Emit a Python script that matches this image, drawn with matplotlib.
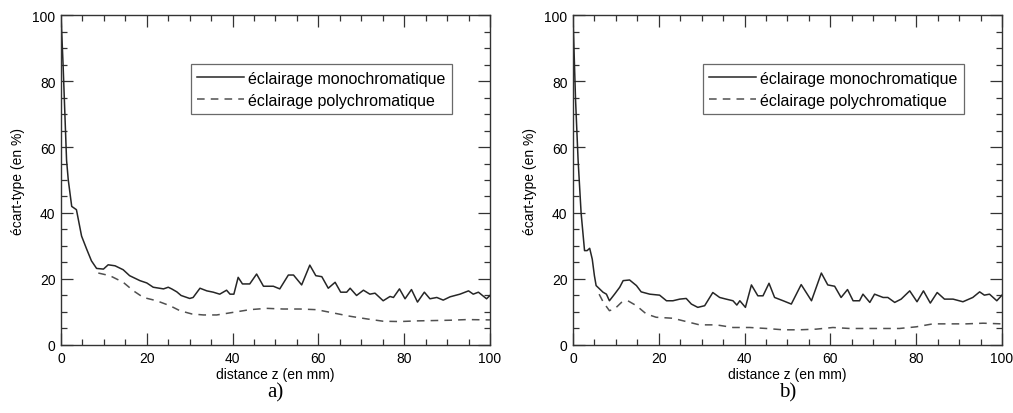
import numpy as np
import matplotlib
matplotlib.use("Agg")
import matplotlib.pyplot as plt
from matplotlib.ticker import MultipleLocator

plt.rcParams["font.family"] = ["Liberation Sans", "DejaVu Sans"]

# a) eclairage monochromatique
a_mono_z = [0, 0.5, 1.3, 1.7, 2.5, 3.6, 4.8, 6, 7.1, 8.3, 9.9, 11, 12.6, 14.5, 16, 18.4, 20,
            21.5, 23.9, 25, 25.8, 27, 28, 30, 30.8, 32.4, 34, 35.5, 37, 38.6, 39.4, 40.3,
            41.3, 42.3, 44, 45.6, 47.2, 49.5, 51, 53, 54.2, 56.1, 58, 59.4, 60.8, 62.3,
            63.9, 65.2, 66.6, 67.4, 68.9, 70.5, 72, 73.2, 75.1, 76.7, 77.5, 78.9, 80.2,
            81.7, 83.1, 84.7, 86, 87.6, 89.1, 90.7, 93, 95, 96.1, 97.3, 99.2, 100]
a_mono = [100, 84.6, 56, 50, 42, 41, 33, 29, 25.5, 23.2, 23, 24.3, 24, 22.8, 21, 19.5, 18.8,
          17.5, 17, 17.5, 17, 16.1, 15, 14.1, 14.4, 17.2, 16.4, 16, 15.4, 16.6, 15.4, 15.4,
          20.5, 18.5, 18.5, 21.5, 17.8, 17.8, 17, 21.2, 21.2, 18.2, 24.2, 21, 20.7, 17.2,
          19, 16, 16, 17.2, 15, 16.6, 15.4, 15.7, 13.4, 14.7, 14.4, 17, 14,
          16.8, 13, 16, 14, 14.4, 13.6, 14.6, 15.4, 16.4, 15.4, 16, 14, 15]

# a) eclairage polychromatique
a_poly_z = [8.7, 11.4, 14.5, 16.9, 19.2, 22.3, 25.4, 27.7, 30.5, 33.2, 36.3, 40.2, 44, 47.9,
            51.8, 55.7, 59.6, 63.5, 67.4, 71.3, 75.1, 79, 82.9, 86.8, 90.7, 94.6, 100]
a_poly = [21.8, 21, 19, 16.4, 14.4, 13.4, 11.9, 10.4, 9.4, 9.1, 9.1, 9.9, 10.7, 11.1,
          10.9, 10.9, 10.7, 9.7, 8.7, 7.9, 7.2, 7.1, 7.3, 7.4, 7.5, 7.7, 7.6]

# b) eclairage monochromatique
b_mono_z = [0, 0.6, 1.2, 1.9, 2.7, 3.3, 3.9, 4.5, 5, 5.4, 6.2, 7, 7.8, 8.5, 9.7, 10.9, 11.7,
            13.2, 14.8, 15.9, 17.9, 20.2, 21.8, 23.3, 24.9, 26.4, 27.6, 29.1, 30.7, 32.6,
            34.2, 35.7, 37.3, 38.2, 38.9, 40.2, 41.6, 43.1, 44.3, 45.7, 47, 49, 50.9, 53.2,
            55.6, 57.9, 59.4, 61, 62.5, 64, 65.3, 66.8, 67.6, 69.2, 70.3, 72.3, 73.4, 75,
            76.5, 78.5, 80.2, 81.7, 83.3, 84.9, 86.6, 88.6, 90.9, 93.2, 94.8, 95.9, 97.1,
            98.8, 100]
b_mono = [100, 74.5, 56, 40, 28.6, 28.6, 29.3, 26, 21, 18, 17, 16, 15.4, 13.4, 15.4, 17.5,
          19.5, 19.7, 18, 16.1, 15.4, 15.1, 13.4, 13.4, 13.9, 14.1, 12.4, 11.4, 11.9, 15.9,
          14.4, 13.9, 13.4, 12.1, 13.4, 11.4, 18.2, 14.9, 14.9, 18.7, 14.4, 13.4, 12.4, 18.3,
          13.4, 21.8, 18.2, 17.8, 14.4, 16.8, 13.4, 13.4, 15.4, 12.9, 15.4, 14.4, 14.4, 12.9,
          13.9, 16.4, 13.1, 16.4, 12.7, 15.9, 13.9, 13.9, 13.1, 14.4, 16.1, 15.1, 15.4,
          13.4, 15.1]

# b) eclairage polychromatique
b_poly_z = [6.1, 7.1, 8.5, 9.7, 11.3, 12.8, 14.8, 17.1, 19.4, 23.3, 26.4, 29.5, 33.4, 37.3,
            41.2, 45.1, 49, 52.8, 56.7, 60.6, 64.5, 68.4, 72.3, 76.1, 80, 83.9, 87.8, 91.7,
            95.6, 100]
b_poly = [15.4, 12.9, 10.4, 10.9, 12.9, 13.4, 11.9, 9.4, 8.4, 8.1, 7.1, 6.1, 6.1, 5.3,
          5.3, 5.0, 4.6, 4.6, 4.8, 5.3, 5.0, 5.0, 5.0, 5.0, 5.5, 6.4, 6.4, 6.4, 6.6, 6.4]

panels = [("a)", a_mono_z, a_mono, a_poly_z, a_poly, 0.0602),
          ("b)", b_mono_z, b_mono, b_poly_z, b_poly, 0.5656)]

fig = plt.figure(figsize=(10.13, 4.14), dpi=100)

for tag, mz, m, pz, p, left in panels:
    ax = fig.add_axes([left, 0.1643, 0.4235, 0.797])
    ax.plot(mz, m, color="#262626", lw=1.1, label="éclairage monochromatique")
    ax.plot(pz, p, color="#505050", lw=1.1, ls=(0, (5, 4)), label="éclairage polychromatique")
    ax.set_xlim(0, 100)
    ax.set_ylim(0, 100)
    ax.xaxis.set_major_locator(MultipleLocator(20))
    ax.xaxis.set_minor_locator(MultipleLocator(5))
    ax.yaxis.set_major_locator(MultipleLocator(20))
    ax.yaxis.set_minor_locator(MultipleLocator(5))
    ax.tick_params(which="both", direction="in", top=True, right=True, labelsize=10,
                   color="#333333", width=0.9)
    ax.tick_params(which="major", length=8.5, pad=4)
    ax.tick_params(which="minor", length=4.3)
    for s in ax.spines.values():
        s.set_color("#333333")
        s.set_linewidth(1.0)
    ax.set_xlabel("distance z (en mm)", fontsize=10, labelpad=2)
    ax.set_ylabel("écart-type (en %)", fontsize=10, labelpad=5)
    leg = ax.legend(loc="upper right", bbox_to_anchor=(0.911, 0.852), fontsize=11.5,
                    frameon=True, fancybox=False, handlelength=2.9, handletextpad=0.25,
                    borderpad=0.42, labelspacing=0.45, borderaxespad=0)
    leg.get_frame().set_edgecolor("#444444")
    leg.get_frame().set_linewidth(0.9)
    fig.text(left + 0.4235 / 2, 0.05, tag, ha="center", va="center",
             fontsize=15, family="Liberation Serif")

fig.savefig("out.png", dpi=100)
